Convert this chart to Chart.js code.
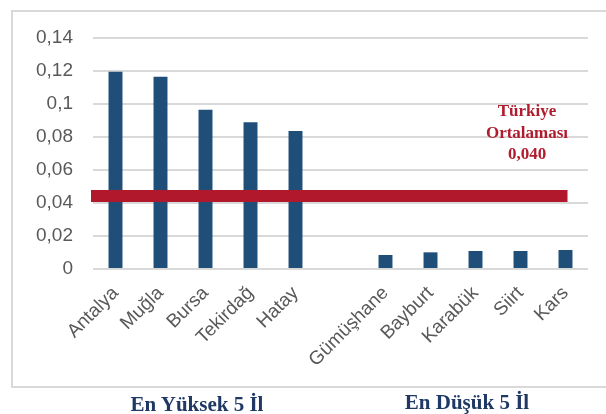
<!DOCTYPE html>
<html>
<head>
<meta charset="utf-8">
<script src="https://cdn.jsdelivr.net/npm/chart.js@4"></script>
<style>
  body { margin: 0; background: #fff; }
  #wrap { position: relative; width: 606px; height: 414px; overflow: hidden; }
  .grp { position: absolute; font-family: "Liberation Serif", serif; font-weight: bold;
         font-size: 21px; color: #1F3864; white-space: nowrap; transform: translate(-50%, -50%); }
  #avg { position: absolute; font-family: "Liberation Serif", serif; font-weight: bold;
         font-size: 17px; color: #B01C2E; text-align: center; line-height: 21.5px;
         left: 527px; top: 132px; transform: translate(-50%, -50%); }
</style>
</head>
<body>
<div id="wrap">
  <canvas id="grafico" width="606" height="414"></canvas>
  <div id="avg">Türkiye<br>Ortalaması<br>0,040</div>
  <div class="grp" style="left:197px; top:404px;">En Yüksek 5 İl</div>
  <div class="grp" style="left:467px; top:402px;">En Düşük 5 İl</div>
</div>
<script>
// Dados do gráfico
const iller = ["Antalya", "Muğla", "Bursa", "Tekirdağ", "Hatay", "",
    "Gümüşhane", "Bayburt", "Karabük", "Siirt", "Kars"];
const degerler = [0.1195, 0.1165, 0.0965, 0.089, 0.0837, null,
    0.0085, 0.0101, 0.0109, 0.0109, 0.0115];
const yTickLabels = ["0", "0,02", "0,04", "0,06", "0,08", "0,1", "0,12", "0,14"];
const ortalamaCizgi = 0.0442; // Türkiye ortalaması çizgisi (resimdeki konum)

const grafico = document.getElementById("grafico");

// Çerçeve ve ortalama çizgisi
const ortalamaPlugin = {
    id: "ortalama",
    beforeDraw(chart) {
        const ctx = chart.ctx;
        ctx.save();
        ctx.fillStyle = "#fff";
        ctx.fillRect(0, 0, chart.width, chart.height);
        ctx.strokeStyle = "#D9D9D9";
        ctx.lineWidth = 2;
        ctx.strokeRect(12, 11, 600, 376);
        ctx.restore();
    },
    afterDatasetsDraw(chart) {
        const ctx = chart.ctx;
        const x = chart.scales.x;
        const y = chart.scales.y.getPixelForValue(ortalamaCizgi);
        ctx.save();
        ctx.strokeStyle = "#B2182B";
        ctx.lineWidth = 12;
        ctx.beginPath();
        ctx.moveTo(chart.chartArea.left - 2, y);
        ctx.lineTo(x.getPixelForValue(iller.length - 1) + 2, y);
        ctx.stroke();
        ctx.restore();
    },
};

const options = {
    responsive: false,
    animation: false,
    layout: {
        padding: { top: 38, right: 18, bottom: 0, left: 0 },
    },
    scales: {
        x: {
            afterFit: (s) => { s.height = 145; },
            grid: { display: false },
            border: { display: false },
            ticks: {
                minRotation: 45,
                maxRotation: 45,
                autoSkip: false,
                padding: 5,
                color: "#595959",
                font: { size: 19, family: "Liberation Sans" },
            },
        },
        y: {
            min: 0,
            max: 0.14,
            afterFit: (s) => { s.width = 93; },
            border: { display: false },
            grid: { color: "#D9D9D9", lineWidth: 2, drawTicks: false },
            ticks: {
                stepSize: 0.02,
                padding: 20,
                color: "#595959",
                font: { size: 19, family: "Liberation Sans" },
                callback: (v, i) => yTickLabels[i],
            },
        },
    },
    plugins: {
        legend: { display: false },
        tooltip: { enabled: false },
    },
};

new Chart(grafico, {
    type: "bar",
    data: {
        labels: iller,
        datasets: [
            {
                data: degerler,
                backgroundColor: "#1F4E79",
                borderWidth: 0,
                barPercentage: 0.31,
                categoryPercentage: 1,
            },
        ],
    },
    options: options,
    plugins: [ortalamaPlugin],
});
</script>
</body>
</html>
